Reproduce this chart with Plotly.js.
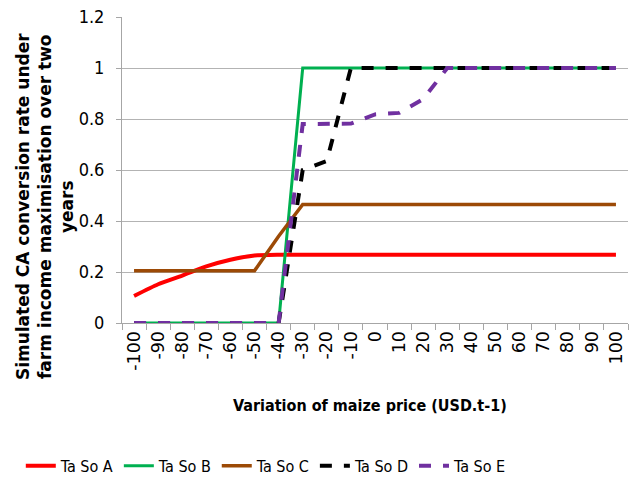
<!DOCTYPE html>
<html>
<head>
<meta charset="utf-8">
<script src="https://cdn.plot.ly/plotly-3.0.1.min.js"></script>
<style>html,body{margin:0;padding:0;background:#fff;}#chart{width:634px;height:480px;}</style>
</head>
<body>
<div id="chart"></div>
<script>
var categories = ["-100","-90","-80","-70","-60","-50","-40","-30","-20","-10","0","10","20","30","40","50","60","70","80","90","100"];
var taSoA = [0.106,0.152,0.186,0.222,0.248,0.265,0.268,0.268,0.268,0.268,0.268,0.268,0.268,0.268,0.268,0.268,0.268,0.268,0.268,0.268,0.268];
var taSoB = [0,0,0,0,0,0,0,1,1,1,1,1,1,1,1,1,1,1,1,1,1];
var taSoC = [0.205,0.205,0.205,0.205,0.205,0.205,0.34,0.465,0.465,0.465,0.465,0.465,0.465,0.465,0.465,0.465,0.465,0.465,0.465,0.465,0.465];
var taSoD = [0,0,0,0,0,0,0,0.6,0.635,1,1,1,1,1,1,1,1,1,1,1,1];
var taSoE = [0,0,0,0,0,0,0,0.78,0.78,0.782,0.818,0.824,0.878,1,1,1,1,1,1,1,1];
var seriesNames = ["Ta So A","Ta So B","Ta So C","Ta So D","Ta So E"];
var yTicks = [0,0.2,0.4,0.6,0.8,1,1.2];
var yTickText = ["0","0.2","0.4","0.6","0.8","1","1.2"];
var xTitle = "Variation of maize price (USD.t-1)";
var yTitle = "Simulated CA conversion rate under<br>farm income maximisation over two<br>years";

var narrow = "Liberation Sans Narrow, DejaVu Sans Condensed, Roboto, sans-serif";
var styles = [
  {color:"#FF0000", width:4, dash:"solid", shape:"spline"},
  {color:"#00B050", width:3, dash:"solid", shape:"linear"},
  {color:"#9C4A06", width:3.5, dash:"solid", shape:"linear"},
  {color:"#000000", width:4, dash:"12px,12px", shape:"linear"},
  {color:"#7030A0", width:4, dash:"12px,12px", shape:"linear"}
];
var allY = [taSoA,taSoB,taSoC,taSoD,taSoE];
var data = allY.map(function(ys,i){
  return {x:categories, y:ys, type:"scatter", mode:"lines", name:seriesNames[i],
          line:{color:styles[i].color, width:styles[i].width, dash:styles[i].dash, shape:styles[i].shape, smoothing:0.6}};
});

var layout = {
  width:634, height:480,
  margin:{l:122, r:6, t:17, b:157, autoexpand:false},
  paper_bgcolor:"#fff", plot_bgcolor:"#fff",
  showlegend:true,
  legend:{orientation:"h", x:-0.2, xanchor:"left", y:-0.467, yanchor:"middle",
          font:{family:narrow, size:16, color:"#000"}, itemwidth:30, tracegroupgap:0},
  xaxis:{type:"category", categoryarray:categories, range:[-0.5,20.5],
         tickson:"boundaries", ticks:"outside", ticklen:6, tickcolor:"#A6A6A6",
         showline:true, linecolor:"#A6A6A6", linewidth:1, showgrid:false, zeroline:false,
         tickangle:-90, tickfont:{family:"DejaVu Sans", size:17.5, color:"#000"},
         automargin:false, fixedrange:true},
  yaxis:{range:[0,1.2], tickvals:yTicks, ticktext:yTickText, ticks:"outside", ticklen:5, tickcolor:"#A6A6A6",
         showline:true, linecolor:"#A6A6A6", linewidth:1, showgrid:true, gridcolor:"#B3B3B3", gridwidth:1,
         zeroline:false, tickfont:{family:narrow, size:18, color:"#000"}, ticklabelstandoff:8,
         automargin:false, fixedrange:true},
  annotations:[
   {text:"<b>"+yTitle+"</b>",
    xref:"paper", yref:"paper", x:-0.152, y:0.379, xanchor:"center", yanchor:"middle", textangle:-90,
    showarrow:false, font:{family:"DejaVu Sans", size:17, color:"#000"}, align:"center"},
   {text:"<b>"+xTitle+"</b>",
    xref:"paper", yref:"paper", x:0.49, y:-0.271, xanchor:"center", yanchor:"middle",
    showarrow:false, font:{family:narrow, size:16, color:"#000"}}
  ]
};
Plotly.newPlot("chart", data, layout, {displayModeBar:false, staticPlot:true});
</script>
</body>
</html>
